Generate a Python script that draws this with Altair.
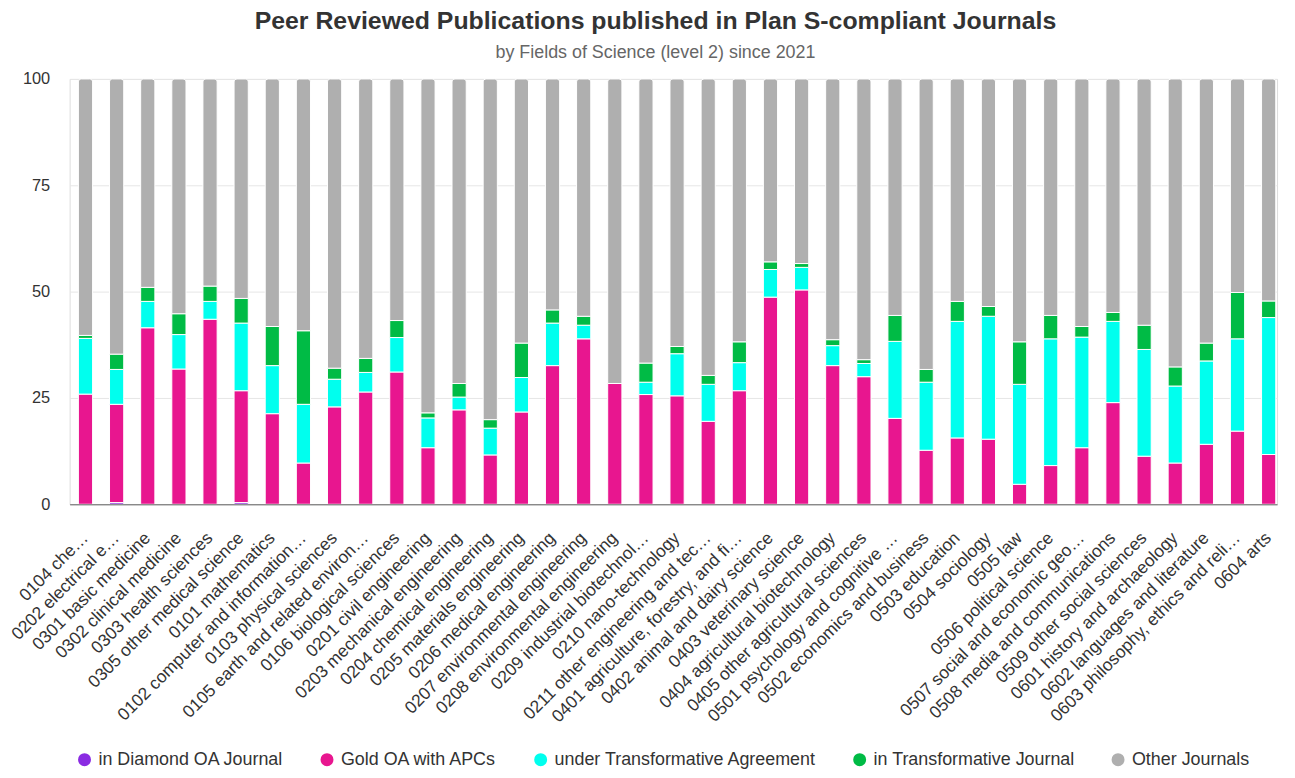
import altair as alt
import pandas as pd

categories = [
    "0104 che…", "0202 electrical e…", "0301 basic medicine", "0302 clinical medicine",
    "0303 health sciences", "0305 other medical science", "0101 mathematics",
    "0102 computer and information…", "0103 physical sciences", "0105 earth and related environ…",
    "0106 biological sciences", "0201 civil engineering", "0203 mechanical engineering",
    "0204 chemical engineering", "0205 materials engineering", "0206 medical engineering",
    "0207 environmental engineering", "0208 environmental engineering", "0209 industrial biotechnol…",
    "0210 nano-technology", "0211 other engineering and tec…", "0401 agriculture, forestry, and fi…",
    "0402 animal and dairy science", "0403 veterinary science", "0404 agricultural biotechnology",
    "0405 other agricultural sciences", "0501 psychology and cognitive …", "0502 economics and business",
    "0503 education", "0504 sociology", "0505 law", "0506 political science",
    "0507 social and economic geo…", "0508 media and communications", "0509 other social sciences",
    "0601 history and archaeology", "0602 languages and literature",
    "0603 philosophy, ethics and reli…", "0604 arts",
]

series = ["in Diamond OA Journal", "Gold OA with APCs", "under Transformative Agreement",
          "in Transformative Journal", "Other Journals"]
colors = ["#8A2BE2", "#E8168F", "#00FFEE", "#00BB45", "#AFAFAF"]

diamond = [0, 0.4, 0, 0, 0, 0.4, 0, 0, 0, 0, 0, 0, 0, 0, 0, 0, 0, 0, 0, 0,
           0, 0, 0, 0, 0, 0, 0, 0, 0, 0, 0, 0, 0, 0, 0, 0, 0, 0, 0]
gold = [25.9, 23.1, 41.5, 31.8, 43.5, 26.3, 21.3, 9.7, 22.9, 26.4, 31.1, 13.3, 22.2,
        11.6, 21.7, 32.6, 38.9, 28.4, 25.8, 25.5, 19.5, 26.7, 48.7, 50.4, 32.6, 30.0,
        20.2, 12.7, 15.6, 15.3, 4.7, 9.1, 13.3, 23.9, 11.3, 9.7, 14.1, 17.2, 11.7]
transformative_agreement = [13.1, 8.2, 6.2, 8.1, 4.2, 15.9, 11.3, 13.8, 6.5, 4.6, 8.1, 7.0, 3.0,
                            6.3, 8.1, 10.0, 3.2, 0, 2.9, 9.9, 8.7, 6.6, 6.5, 5.3, 4.7, 3.1,
                            18.1, 16.0, 27.4, 28.9, 23.5, 29.8, 26.0, 19.1, 25.1, 18.1, 19.6, 21.7, 32.2]
transformative_journal = [0.7, 3.6, 3.3, 4.9, 3.6, 5.8, 9.2, 17.3, 2.6, 3.3, 4.0, 1.2, 3.2,
                          2.0, 8.1, 3.1, 2.1, 0, 4.5, 1.7, 2.1, 4.9, 1.8, 0.9, 1.4, 0.9,
                          6.1, 3.0, 4.7, 2.3, 10.0, 5.5, 2.5, 2.1, 5.7, 4.5, 4.2, 10.9, 3.9]
other = [60.3, 64.7, 49.0, 55.2, 48.7, 51.6, 58.2, 59.2, 68.0, 65.7, 56.8, 78.5, 71.6,
         80.1, 62.1, 54.3, 55.8, 71.6, 66.8, 62.9, 69.7, 61.8, 43.0, 43.4, 61.3, 66.0,
         55.6, 68.3, 52.3, 53.5, 61.8, 55.6, 58.2, 54.9, 57.9, 67.7, 62.1, 50.2, 52.2]

y_ticks = [0, 25, 50, 75, 100]

all_series = [diamond, gold, transformative_agreement, transformative_journal, other]
rows = []
for i, cat in enumerate(categories):
    for k, (name, vals) in enumerate(zip(series, all_series)):
        rows.append({"field": cat, "series": name, "order": k, "value": vals[i]})
df = pd.DataFrame(rows)

FONT = "Liberation Sans"

x_enc = alt.X(
    "field:N", sort=categories, title=None,
    scale=alt.Scale(paddingInner=0.544, paddingOuter=0.162, align=0.87),
    axis=alt.Axis(labelAngle=-45, labelAlign="right", labelBaseline="middle",
                  labelFontSize=17.5, labelColor="#333333", labelFont=FONT,
                  labelPadding=31, labelLimit=400, ticks=False,
                  domainColor="#666666", domainWidth=1, grid=False, zindex=1),
)
y_enc = alt.Y(
    "y0:Q", title=None,
    scale=alt.Scale(domain=[0, 100], nice=False),
    axis=alt.Axis(values=y_ticks, grid=True, gridColor="#e6e6e6", gridWidth=1,
                  domain=False, ticks=False, labelFontSize=16.5, labelColor="#333333",
                  labelFont=FONT, labelPadding=20, zindex=0),
)
color_enc = alt.Color(
    "series:N", sort=series,
    scale=alt.Scale(domain=series, range=colors),
    legend=alt.Legend(orient="none", legendX=6, legendY=676, direction="horizontal",
                      title=None, symbolType="circle", symbolSize=170, symbolStrokeWidth=0,
                      labelFontSize=18, labelColor="#333333", labelFont=FONT,
                      columnPadding=34, labelOffset=5, padding=0, labelLimit=400),
)

base = alt.Chart(df).transform_stack(
    stack="value", groupby=["field"], sort=[alt.SortField("order", order="ascending")],
    as_=["y0", "y1"],
).transform_filter("datum.value > 0")

lower = base.transform_filter("datum.order < 4").mark_bar(
    stroke="white", strokeWidth=1
).encode(x=x_enc, y=y_enc, y2="y1:Q", color=color_enc)

upper = base.transform_filter("datum.order == 4").mark_bar(
    stroke="white", strokeWidth=1, cornerRadiusTopLeft=3, cornerRadiusTopRight=3
).encode(x=x_enc, y=y_enc, y2="y1:Q", color=color_enc)

chart = alt.layer(lower, upper).properties(
    width=1215, height=428,
    title=alt.Title(
        "Peer Reviewed Publications published in Plan S-compliant Journals",
        subtitle="by Fields of Science (level 2) since 2021",
        fontSize=25, fontWeight="bold", color="#333333", font=FONT,
        subtitleFontSize=18, subtitleColor="#666666", subtitleFont=FONT,
        anchor="middle", offset=9, subtitlePadding=10, dx=-18,
    ),
    padding={"left": 62, "top": 69, "right": 10, "bottom": 265},
    autosize=alt.AutoSizeParams(type="none"),
).configure_view(stroke=None).configure(font=FONT)

chart.save("out.html", embed_options={"renderer": "svg", "actions": False})
